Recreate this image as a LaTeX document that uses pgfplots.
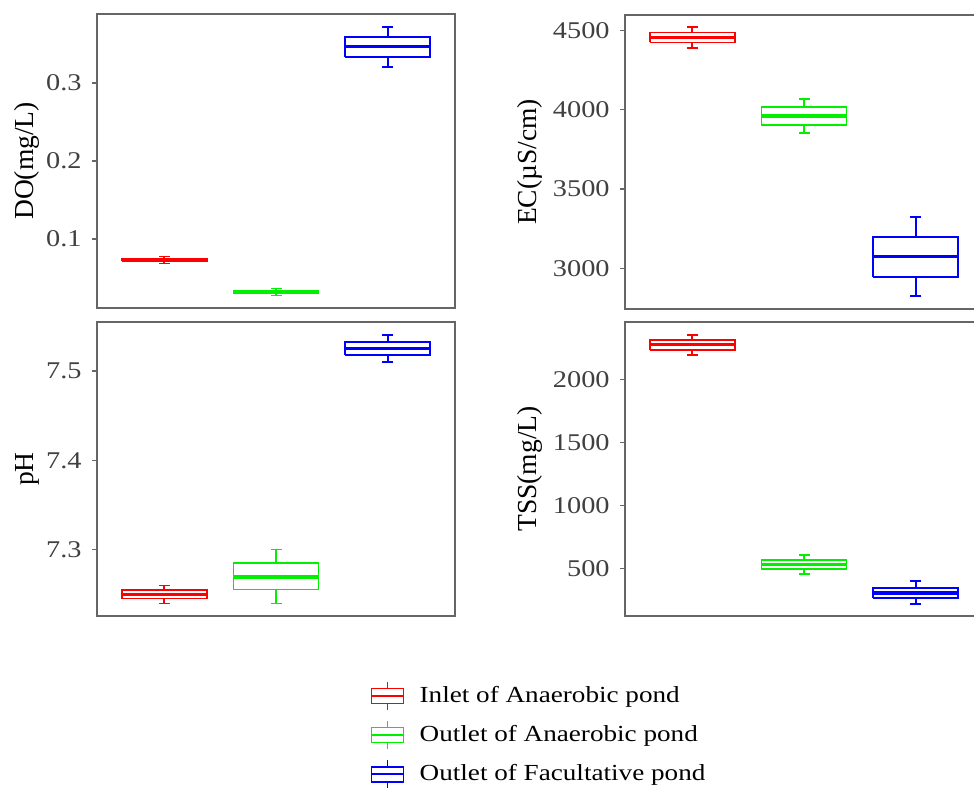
\documentclass[border=0pt]{standalone}
\usepackage{fontspec}
\setmainfont{Liberation Serif}[FakeStretch=1.18]
\newfontfamily\titlefont{Liberation Serif}
\usepackage{pgfplots}
\pgfplotsset{compat=1.18}
\definecolor{frame}{gray}{0.4}
\definecolor{ticklab}{gray}{0.25}
\definecolor{myred}{RGB}{255,0,0}
\definecolor{mygreen}{RGB}{0,240,0}
\definecolor{myblue}{RGB}{0,0,255}
\pgfplotsset{
  panel/.style={
    scale only axis, width=179pt, height=147pt,
    xmin=0.4, xmax=3.6, xtick=\empty,
    axis line style={draw=frame, line width=0.7pt},
    tick align=outside, major tick length=2.5pt,
    every tick/.style={draw=frame, line width=0.6pt},
    ytick pos=left,
    yticklabel style={font=\fontsize{12}{13}\selectfont, text=ticklab, inner sep=5pt},
    every axis y label/.style={at={(axis description cs:#1,0.5)}, rotate=90, anchor=center, font=\titlefont\fontsize{13.75}{14}\selectfont},
  },
  legbox/.style={legend image code/.code={
    \draw[##1, line width=0.8pt, fill=white] (0pt,-3.75pt) rectangle (16pt,3.75pt);
    \draw[##1, line width=0.8pt] (0pt,0pt) -- (16pt,0pt);
    \draw[##1, line width=0.8pt] (8pt,3.75pt) -- (8pt,7pt);
    \draw[##1, line width=0.8pt] (8pt,-3.75pt) -- (8pt,-7pt);
    \path (22pt,0pt);
  }},
}
% box: #1 colour, #2 left, #3 right, #4 centre, #5 lower whisker, #6 lower quartile, #7 median, #8 upper quartile, #9 upper whisker
\newcommand\bp[9]{%
  \addplot[color=#1, line width=0.9pt, mark=-, mark size=2.75pt, mark indices={2}, mark options={solid, line width=0.9pt}, forget plot] coordinates {(#4,#6) (#4,#5)};
  \addplot[color=#1, line width=0.9pt, mark=-, mark size=2.75pt, mark indices={2}, mark options={solid, line width=0.9pt}, forget plot] coordinates {(#4,#8) (#4,#9)};
  \addplot[color=#1, fill=white, line width=0.9pt, mark=none, forget plot] coordinates {(#2,#6) (#3,#6) (#3,#8) (#2,#8) (#2,#6)};
  \addplot[color=#1, line width=1.6pt, mark=none, forget plot] coordinates {(#2,#7) (#3,#7)};
}
\begin{document}
\begin{tikzpicture}
% DO
\begin{axis}[panel=-0.1955, at={(48.5pt,240.5pt)}, anchor=south west,
  ymin=0.0115, ymax=0.3885, ytick={0.1,0.2,0.3}, yticklabels={0.1,0.2,0.3},
  ylabel={DO(mg/L)}]
\bp{myred}{0.62}{1.38}{1}{0.0685}{0.0712}{0.073}{0.0748}{0.0775}
\bp{mygreen}{1.62}{2.38}{2}{0.0275}{0.0302}{0.032}{0.0338}{0.0365}
\bp{myblue}{2.62}{3.38}{3}{0.321}{0.3337}{0.3465}{0.3586}{0.372}
\end{axis}
% EC
\begin{axis}[panel=-0.265, at={(312.5pt,240pt)}, anchor=south west,
  ymin=2743, ymax=4599, ytick={3000,3500,4000,4500}, yticklabels={3000,3500,4000,4500},
  ylabel={EC(µS/cm)}]
\bp{myred}{0.62}{1.38}{1}{4390}{4426}{4456}{4489}{4525}
\bp{mygreen}{1.62}{2.38}{2}{3853}{3905}{3962}{4017}{4069}
\bp{myblue}{2.62}{3.38}{3}{2827}{2947}{3073}{3196}{3322}
\end{axis}
% pH
\begin{axis}[panel=-0.1955, at={(48.5pt,86.5pt)}, anchor=south west,
  ymin=7.2256, ymax=7.5549, ytick={7.3,7.4,7.5}, yticklabels={7.3,7.4,7.5},
  ylabel={pH}]
\bp{myred}{0.62}{1.38}{1}{7.2395}{7.2451}{7.2496}{7.2544}{7.2597}
\bp{mygreen}{1.62}{2.38}{2}{7.2395}{7.2552}{7.2693}{7.2854}{7.300}
\bp{myblue}{2.62}{3.38}{3}{7.510}{7.5176}{7.525}{7.5325}{7.540}
\end{axis}
% TSS
\begin{axis}[panel=-0.265, at={(312.5pt,86.5pt)}, anchor=south west,
  ymin=124, ymax=2457, ytick={500,1000,1500,2000}, yticklabels={500,1000,1500,2000},
  ylabel={TSS(mg/L)},
  legend style={at={(axis description cs:-0.712,-0.2204)}, anchor=north west, draw=none, fill=none, inner sep=0pt, row sep=4.75pt, font=\fontsize{11.5}{12}\selectfont, cells={anchor=west}}]
\addlegendimage{legbox, color=myred}
\addlegendentry{Inlet of Anaerobic pond}
\addlegendimage{legbox, color=mygreen}
\addlegendentry{Outlet of Anaerobic pond}
\addlegendimage{legbox, color=myblue}
\addlegendentry{Outlet of Facultative pond}
\bp{myred}{0.62}{1.38}{1}{2193}{2238}{2278}{2312}{2352}
\bp{mygreen}{1.62}{2.38}{2}{460}{494}{534}{571}{611}
\bp{myblue}{2.62}{3.38}{3}{222}{270}{307}{349}{402}
\end{axis}
\pgfresetboundingbox
\useasboundingbox (0pt,0pt) rectangle (487pt,394.5pt);
\end{tikzpicture}
\end{document}
